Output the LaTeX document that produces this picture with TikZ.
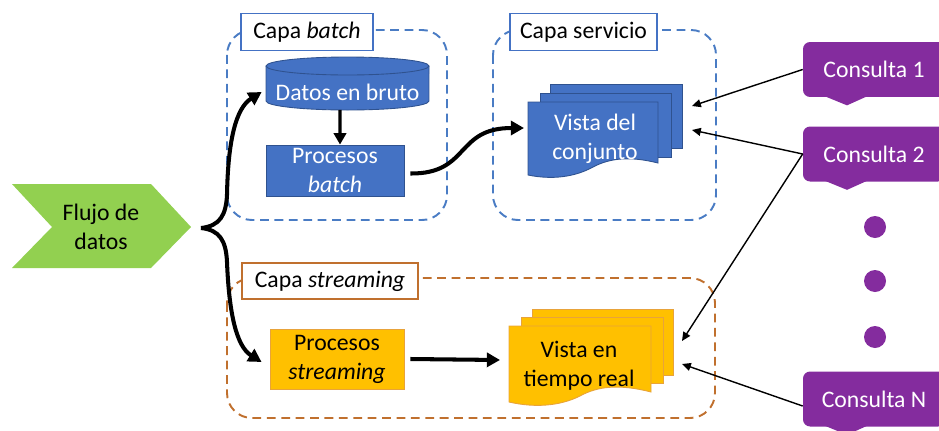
\documentclass[tikz,border=0pt]{standalone}
\usepackage{fontspec}
\setmainfont{Carlito}
\usetikzlibrary{arrows.meta,calc}
\definecolor{bluef}{HTML}{4472C4}
\definecolor{blued}{HTML}{2F528F}
\definecolor{bluedash}{HTML}{4A7CC4}
\definecolor{greenf}{HTML}{92D050}
\definecolor{yellowf}{HTML}{FFC000}
\definecolor{yellowd}{HTML}{E8A33A}
\definecolor{orangec}{HTML}{C0702E}
\definecolor{purplef}{RGB}{132,44,158}
\tikzset{
  container/.style={draw=#1, dash pattern=on 5pt off 3.2pt, line width=1.1pt, rounded corners=0.5cm},
  layertag/.style={draw=#1, fill=white, line width=0.9pt, inner sep=0pt, minimum height=0.74cm},
  bluebox/.style={fill=bluef, draw=blued, line width=0.5pt, text=white, align=center, inner sep=0pt},
  yellowbox/.style={fill=yellowf, draw=yellowd, line width=0.5pt, text=black, align=center, inner sep=0pt},
  bigarrow/.style={line width=2.3pt, -{Triangle[length=7.5pt,width=8pt]}},
  midarrow/.style={line width=1.8pt, -{Triangle[length=6.5pt,width=7pt]}},
  thinarrow/.style={line width=0.8pt, -{Triangle[length=5pt,width=4.5pt]}},
  query/.style={fill=purplef, rounded corners=4pt, text=white, minimum width=2.84cm, minimum height=1.1cm, inner sep=0pt},
  dotq/.style={circle, fill=purplef, minimum size=0.44cm, inner sep=0pt},
  txt/.style={align=center, inner sep=0pt}
}
\begin{document}
\begin{tikzpicture}[x=0.02cm,y=-0.02cm, font=\fontsize{13.5}{16.5}\selectfont]
\useasboundingbox (0,0) rectangle (939,430);
\clip (0,0) rectangle (939,430);

% containers
\draw[container=bluedash] (227,30) rectangle (447,220);
\draw[container=bluedash] (493,30) rectangle (716,220);
\draw[container=orangec] (227,278) rectangle (715,418);

% layer tags
\node[layertag=bluef, minimum width=2.64cm] (tagbatch) at (307,32) {Capa \textit{batch}};
\node[layertag=bluef, minimum width=2.94cm] (tagserv) at (583.5,32) {Capa servicio};
\node[layertag=orangec, minimum width=3.52cm, minimum height=0.72cm] (tagstream) at (330,281) {Capa \textit{streaming}};

% flujo de datos chevron
\fill[greenf] (12,184) -- (151,184) -- (191,227) -- (151,268) -- (12,268) -- (52,227) -- cycle;
\node[txt, minimum width=3.56cm, minimum height=1.68cm] (flujo) at (101,227) {Flujo de\\datos};
\coordinate (brace) at (201,228);

% cylinder
\fill[bluef] (266,66) -- (266,101) arc[start angle=180,end angle=360,x radius=1.63cm,y radius=0.18cm] -- (429,66) -- cycle;
\draw[blued, line width=0.5pt] (266,66) -- (266,101) arc[start angle=180,end angle=360,x radius=1.63cm,y radius=0.18cm] -- (429,66);
\filldraw[fill=bluef, draw=blued, line width=0.5pt] (347.5,66) ellipse[x radius=1.63cm, y radius=0.18cm];
\node[txt, text=white, minimum width=3.26cm, minimum height=0.7cm] (datos) at (347.5,92) {Datos en bruto};

% procesos batch
\node[bluebox, minimum width=2.76cm, minimum height=1.02cm] (pbatch) at (335,170.5) {Procesos\\\textit{batch}};

% vista del conjunto (multi-document)
\filldraw[fill=bluef, draw=blued, line width=0.5pt] (550,84) rectangle (682,148);
\filldraw[fill=bluef, draw=blued, line width=0.5pt] (540,93) rectangle (671,157);
\filldraw[fill=bluef, draw=blued, line width=0.5pt] (528,102) -- (658,102) -- (658,163)
  .. controls (630,156) and (610,158) .. (593,167)
  .. controls (575,177) and (552,180) .. (528,175) -- cycle;
\node[txt, text=white] (vbatch) at (595,139) {Vista del\\conjunto};
\coordinate (vbin) at (524,128);
\coordinate (vq1) at (692,106);
\coordinate (vq2) at (692,130);

% procesos streaming
\node[yellowbox, minimum width=2.68cm, minimum height=1.2cm] (pstream) at (337,359) {Procesos\\\textit{streaming}};

% vista en tiempo real
\filldraw[fill=yellowf, draw=yellowd, line width=0.5pt] (532,309) rectangle (673,375);
\filldraw[fill=yellowf, draw=yellowd, line width=0.5pt] (521,317) rectangle (663,383);
\filldraw[fill=yellowf, draw=yellowd, line width=0.5pt] (509,326) -- (651,326) -- (651,392)
  .. controls (620,384) and (598,386) .. (580,396)
  .. controls (560,406) and (535,408) .. (509,402) -- cycle;
\node[txt] (vtreal) at (579,366) {Vista en\\tiempo real};
\coordinate (vtin) at (500,360);
\coordinate (vq3) at (682,341);
\coordinate (vq4) at (682,364);

% queries
\node[query] (c1) at (874,69.5) {Consulta 1};
\node[query] (c2) at (874,154) {Consulta 2};
\node[query] (cN) at (874,399) {Consulta N};
\foreach \q in {c1,c2,cN}{
  \fill[purplef] ($(\q.south)+(-49,-1)$) -- ($(\q.south)+(-7,-1)$) -- ($(\q.south)+(-27,8)$) -- cycle;
}
\node[dotq] (d1) at (875,227) {};
\node[dotq] (d2) at (875,281) {};
\node[dotq] (d3) at (875,337) {};

% thick arrows
\draw[bigarrow] (brace) .. controls (220,226) and (226,215) .. (227,195)
  .. controls (228,140) and (236,108) .. ([xshift=-0.08cm]datos.west);
\draw[bigarrow] (brace) .. controls (220,230) and (226,241) .. (227,262)
  .. controls (229,312) and (236,346) .. ([xshift=-0.16cm,yshift=-0.06cm]pstream.west);
\draw[midarrow] ([xshift=-0.15cm]datos.south) -- ([xshift=0.1cm]pbatch.north);
\draw[bigarrow] ([xshift=0.12cm,yshift=-0.06cm]pbatch.east) .. controls (470,174) and (455,128) .. (vbin);
\draw[bigarrow] ([xshift=0.12cm]pstream.east) -- (vtin);

% thin arrows
\draw[thinarrow] (c1.west) -- (vq1);
\draw[thinarrow] (c2.west) -- (vq2);
\draw[thinarrow] (c2.west) -- (vq3);
\draw[thinarrow] ([yshift=-0.14cm]cN.west) -- (vq4);
\end{tikzpicture}
\end{document}
